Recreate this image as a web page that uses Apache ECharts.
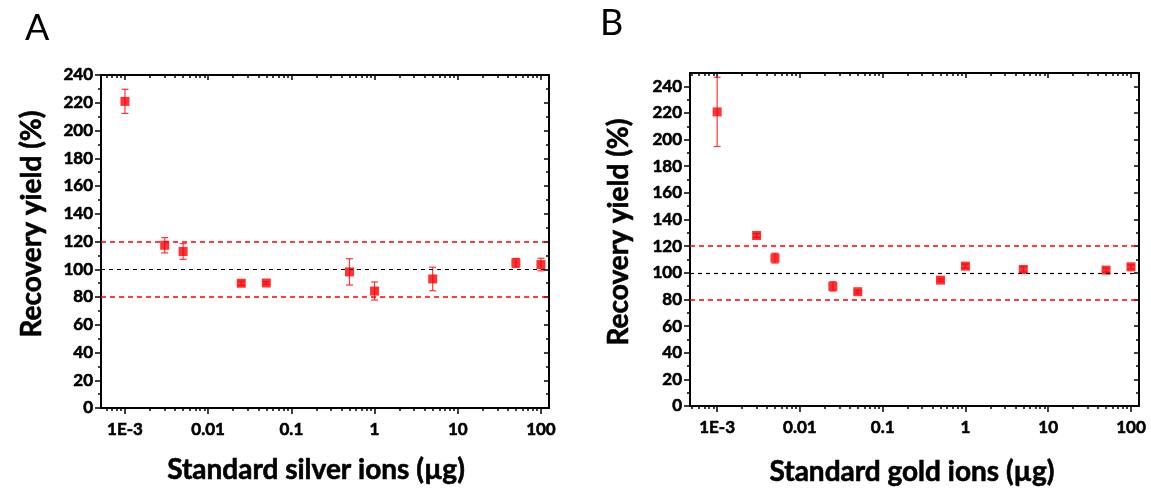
<!DOCTYPE html>
<html>
<head>
<meta charset="utf-8">
<script src="https://cdn.jsdelivr.net/npm/echarts@6/dist/echarts.min.js"></script>
<style>
html,body{margin:0;padding:0;background:#fff;}
#c{width:1151px;height:492px;}
</style>
</head>
<body>
<div id="c"></div>
<script>
// ---------- data ----------
const xTickValues = [0.001, 0.01, 0.1, 1, 10, 100];
const xTickLabels = ['1E-3', '0.01', '0.1', '1', '10', '100'];
const yTickValues = [0, 20, 40, 60, 80, 100, 120, 140, 160, 180, 200, 220, 240];
const yMinorValues = [10, 30, 50, 70, 90, 110, 130, 150, 170, 190, 210, 230, 250];

const silverDose  = [0.001, 0.003, 0.005, 0.025, 0.05, 0.5, 1, 5, 50, 100];
const silverYield = [221, 117.3, 112.8, 89.9, 90.1, 98.1, 84.3, 93, 104.6, 103.4];
const silverErr   = [8.7, 5.5, 5.7, 1.5, 1.0, 9.5, 6.5, 8.5, 3.2, 4.5];

const goldDose  = [0.001, 0.003, 0.005, 0.025, 0.05, 0.5, 1, 5, 50, 100];
const goldYield = [220.8, 128, 111, 89.8, 85.8, 94.5, 105, 102.5, 102, 104.5];
const goldErr   = [26, 1.5, 3.7, 3.5, 1.0, 1.0, 1.5, 2.0, 1.5, 1.5];

const limitLines = [80, 120];
const targetLine = 100;

const panelLetters = ['A', 'B'];
const xTitles = ['Standard silver ions (\u00b5g)', 'Standard gold ions (\u00b5g)'];
const yTitle = 'Recovery yield (%)';

// ---------- helpers ----------
const L = v => Math.log10(v);
const FONT = 'Lato, "Open Sans", "DejaVu Sans", sans-serif';

function minorLogTicks(lo, hi) {
  const out = [];
  for (let d = -5; d <= 3; d++) {
    for (let k = 2; k <= 9; k++) {
      const v = k * Math.pow(10, d);
      if (v > lo && v < hi) out.push(L(v));
    }
  }
  return out;
}

const panels = [
  {dose: silverDose, yld: silverYield, err: silverErr, xmin: 5.15e-4, xmax: 125, ymax: 240,
   grid: {left: 101, top: 75, width: 448, height: 333}},
  {dose: goldDose, yld: goldYield, err: goldErr, xmin: 4.7e-4, xmax: 125, ymax: 250,
   grid: {left: 690, top: 73, width: 449, height: 333}}
];

const grids = [], xAxes = [], yAxes = [], series = [];
const lineCol = '#000';
const labelStyle = {color: '#000', fontSize: 17, fontWeight: 'bold', fontFamily: FONT,
  textBorderColor: '#000', textBorderWidth: 0.6};

panels.forEach((p, gi) => {
  grids.push(Object.assign({containLabel: false, outerBoundsMode: 'none'}, p.grid));
  const xmin = L(p.xmin), xmax = L(p.xmax);
  const majors = xTickValues.map(L);
  const minors = minorLogTicks(p.xmin, p.xmax);
  const base = {type: 'value', gridIndex: gi, min: xmin, max: xmax, splitLine: {show: false}};
  const xi0 = xAxes.length;
  xAxes.push(Object.assign({}, base, {
    position: 'bottom',
    axisLine: {show: true, onZero: false, lineStyle: {color: lineCol, width: 2}},
    axisTick: {show: true, customValues: majors, length: 6, lineStyle: {color: lineCol, width: 1.5}},
    axisLabel: Object.assign({show: true, customValues: majors, margin: 13,
      formatter: v => { const i = majors.findIndex(m => Math.abs(m - v) < 1e-6); return i >= 0 ? xTickLabels[i] : ''; }
    }, labelStyle)
  }));
  xAxes.push(Object.assign({}, base, {
    position: 'bottom',
    axisLine: {show: false, onZero: false},
    axisTick: {show: true, customValues: minors, length: 3, lineStyle: {color: lineCol, width: 1.5}},
    axisLabel: {show: false}
  }));
  xAxes.push(Object.assign({}, base, {
    position: 'top',
    axisLine: {show: true, onZero: false, lineStyle: {color: lineCol, width: 2}},
    axisTick: {show: true, inside: true, customValues: majors, length: 5, lineStyle: {color: lineCol, width: 1.5}},
    axisLabel: {show: false}
  }));
  xAxes.push(Object.assign({}, base, {
    position: 'top',
    axisLine: {show: false, onZero: false},
    axisTick: {show: true, inside: true, customValues: minors, length: 3, lineStyle: {color: lineCol, width: 1.5}},
    axisLabel: {show: false}
  }));

  const ybase = {type: 'value', gridIndex: gi, min: 0, max: p.ymax, splitLine: {show: false}};
  const ymaj = yTickValues.filter(v => v <= p.ymax);
  const ymin = yMinorValues.filter(v => v < p.ymax);
  const yi0 = yAxes.length;
  yAxes.push(Object.assign({}, ybase, {
    position: 'left',
    axisLine: {show: true, onZero: false, lineStyle: {color: lineCol, width: 2}},
    axisTick: {show: true, customValues: ymaj, length: 6, lineStyle: {color: lineCol, width: 1.5}},
    axisLabel: Object.assign({show: true, customValues: ymaj, margin: 8}, labelStyle)
  }));
  yAxes.push(Object.assign({}, ybase, {
    position: 'left',
    axisLine: {show: false, onZero: false},
    axisTick: {show: true, customValues: ymin, length: 3, lineStyle: {color: lineCol, width: 1.5}},
    axisLabel: {show: false}
  }));
  yAxes.push(Object.assign({}, ybase, {
    position: 'right',
    axisLine: {show: true, onZero: false, lineStyle: {color: lineCol, width: 2}},
    axisTick: {show: true, inside: true, customValues: ymaj, length: 5, lineStyle: {color: lineCol, width: 1.5}},
    axisLabel: {show: false}
  }));
  yAxes.push(Object.assign({}, ybase, {
    position: 'right',
    axisLine: {show: false, onZero: false},
    axisTick: {show: true, inside: true, customValues: ymin, length: 3, lineStyle: {color: lineCol, width: 1.5}},
    axisLabel: {show: false}
  }));

  const pts = p.dose.map((d, i) => [L(d), p.yld[i], p.err[i]]);

  series.push({
    type: 'custom', xAxisIndex: xi0, yAxisIndex: yi0, z: 3, silent: true,
    data: pts,
    encode: {x: 0, y: 1},
    renderItem: (params, api) => {
      const x = api.value(0), y = api.value(1), e = api.value(2);
      const top = api.coord([x, y + e]);
      const bot = api.coord([x, y - e]);
      const c = 3.5;
      const st = {stroke: 'rgba(255,20,20,0.85)', lineWidth: 1.2};
      return {type: 'group', children: [
        {type: 'line', shape: {x1: top[0], y1: top[1], x2: bot[0], y2: bot[1]}, style: st},
        {type: 'line', shape: {x1: top[0] - c, y1: top[1], x2: top[0] + c, y2: top[1]}, style: st},
        {type: 'line', shape: {x1: bot[0] - c, y1: bot[1], x2: bot[0] + c, y2: bot[1]}, style: st}
      ]};
    }
  });

  series.push({
    type: 'scatter', xAxisIndex: xi0, yAxisIndex: yi0, z: 4,
    data: pts.map(q => [q[0], q[1]]),
    symbol: 'rect', symbolSize: 9,
    itemStyle: {color: '#ff0000'},
    markLine: {
      silent: true, symbol: ['none', 'none'], label: {show: false},
      data: limitLines.map(v => ({yAxis: v, lineStyle: {color: '#ff0000', type: [5, 4], width: 1.5}}))
        .concat([{yAxis: targetLine, lineStyle: {color: '#000', type: [4, 4], width: 1.2}}])
    }
  });
});

const titleStyle = {fontSize: 28, fontWeight: 'bold', fontFamily: FONT, fill: '#000', align: 'center', verticalAlign: 'middle',
  stroke: '#000', lineWidth: 0.6};
const graphics = [
  {type: 'text', left: 25, top: 10, style: {text: panelLetters[0], fontSize: 36, fontFamily: FONT, fill: '#000'}},
  {type: 'text', left: 600, top: 5, style: {text: panelLetters[1], fontSize: 36, fontFamily: FONT, fill: '#000'}},
  {type: 'text', x: 32, y: 224, rotation: Math.PI / 2, style: Object.assign({text: yTitle}, titleStyle)},
  {type: 'text', x: 619, y: 232, rotation: Math.PI / 2, style: Object.assign({text: yTitle}, titleStyle)},
  {type: 'text', x: 316, y: 470, style: Object.assign({text: xTitles[0]}, titleStyle)},
  {type: 'text', x: 912, y: 472, style: Object.assign({text: xTitles[1]}, titleStyle)}
];

const chart = echarts.init(document.getElementById('c'), null, {renderer: 'canvas'});
chart.setOption({
  animation: false,
  backgroundColor: '#fff',
  grid: grids,
  xAxis: xAxes,
  yAxis: yAxes,
  series: series,
  graphic: graphics
});
</script>
</body>
</html>
